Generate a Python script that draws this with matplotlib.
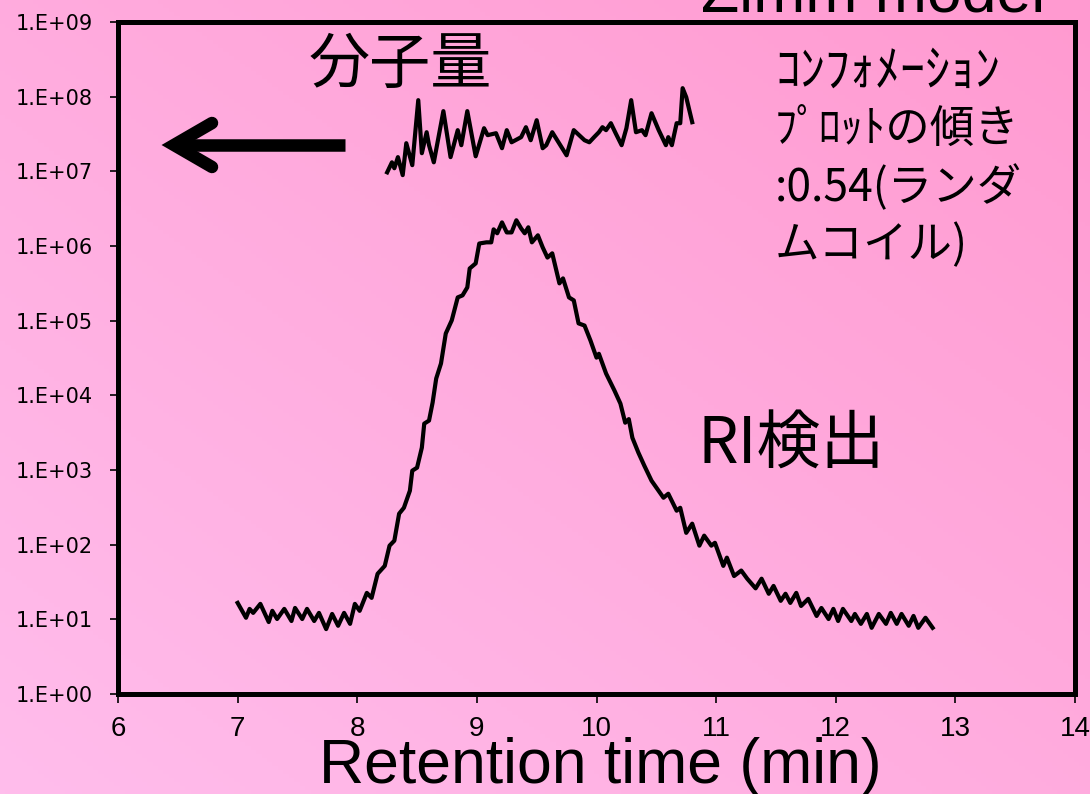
import numpy as np
import matplotlib
matplotlib.use("Agg")
import matplotlib.pyplot as plt
from matplotlib.lines import Line2D

# RI detector trace (retention time in min, detector signal)
ri_time = [7.00, 7.07, 7.10, 7.13, 7.19, 7.26, 7.29, 7.33, 7.39, 7.45,
           7.48, 7.54, 7.58, 7.64, 7.68, 7.74, 7.79, 7.84, 7.89, 7.94,
           7.98, 8.02, 8.08, 8.12, 8.17, 8.23, 8.27, 8.31, 8.35, 8.39,
           8.44, 8.46, 8.50, 8.54, 8.56, 8.60, 8.63, 8.66, 8.70, 8.74,
           8.79, 8.84, 8.88, 8.92, 8.94, 8.99, 9.02, 9.08, 9.12, 9.14,
           9.17, 9.21, 9.25, 9.29, 9.33, 9.37, 9.40, 9.43, 9.46, 9.51,
           9.55, 9.59, 9.63, 9.69, 9.72, 9.77, 9.81, 9.85, 9.90, 9.95,
           10.00, 10.02, 10.08, 10.15, 10.20, 10.24, 10.27, 10.30, 10.35, 10.40,
           10.46, 10.56, 10.60, 10.67, 10.70, 10.75, 10.80, 10.86, 10.90, 10.96,
           10.99, 11.06, 11.09, 11.15, 11.21, 11.26, 11.33, 11.38, 11.44, 11.48,
           11.54, 11.58, 11.62, 11.67, 11.71, 11.77, 11.84, 11.88, 11.94, 11.98,
           12.02, 12.06, 12.13, 12.16, 12.21, 12.26, 12.30, 12.36, 12.42, 12.46,
           12.51, 12.55, 12.61, 12.65, 12.69, 12.75, 12.81]
ri_signal = [16.6, 10.5, 13.8, 12.2, 16.1, 9.2, 13.0, 10.1, 13.8, 9.5,
             14.2, 10.1, 13.8, 9.5, 12.2, 7.4, 11.8, 8.2, 12.2, 8.7,
             16.1, 13.0, 22.6, 19.4, 40.7, 52, 97, 113, 260, 312,
             528, 979, 1075, 1993, 4180, 4590, 8000, 16800, 26700, 67300,
             1.01e5, 2.05e5, 2.18e5, 2.79e5, 5.0e5, 5.85e5, 1.08e6, 1.12e6, 1.12e6, 1.67e6,
             1.48e6, 2.07e6, 1.52e6, 1.52e6, 2.21e6, 1.72e6, 1.48e6, 1.78e6, 1.12e6, 1.39e6,
             9.6e5, 7.0e5, 7.97e5, 3.16e5, 3.68e5, 2.05e5, 1.87e5, 9.2e4, 8.6e4, 5.4e4,
             3.2e4, 3.6e4, 1.96e4, 1.16e4, 7750, 4300, 4800, 2700, 1710, 1140,
             719, 425, 481, 285, 312, 144, 191, 97, 132, 97,
             106, 52, 67, 38, 45, 35, 26, 35, 22, 28,
             17.7, 22, 16.6, 22.6, 15.1, 18.8, 11.1, 14.2, 10.1, 13.8,
             9.5, 13.8, 9.5, 11.8, 8.7, 11.8, 7.7, 11.8, 8.7, 12.2,
             8.7, 11.8, 8.2, 11.1, 7.7, 10.5, 7.7]

# molecular weight across the peak
mw_time = [8.25, 8.29, 8.31, 8.34, 8.38, 8.41, 8.46, 8.51, 8.54, 8.58,
           8.60, 8.64, 8.72, 8.78, 8.84, 8.87, 8.92, 8.99, 9.06, 9.09,
           9.16, 9.21, 9.25, 9.29, 9.37, 9.41, 9.45, 9.50, 9.55, 9.58,
           9.63, 9.75, 9.81, 9.90, 9.94, 9.98, 10.02, 10.05, 10.08, 10.12,
           10.16, 10.21, 10.25, 10.29, 10.33, 10.38, 10.41, 10.46, 10.52, 10.58,
           10.60, 10.63, 10.67, 10.70, 10.72, 10.75, 10.80]
mw_value = [9.7e6, 1.32e7, 1.10e7, 1.55e7, 8.9e6, 2.38e7, 1.21e7, 8.98e7, 1.75e7, 3.34e7,
            2.24e7, 1.32e7, 6.4e7, 1.55e7, 3.56e7, 2.24e7, 6.4e7, 1.59e7, 3.78e7, 3.05e7,
            3.24e7, 2.04e7, 3.56e7, 2.45e7, 2.87e7, 3.9e7, 2.61e7, 4.84e7, 2.04e7, 2.24e7,
            3.34e7, 1.64e7, 3.56e7, 2.61e7, 2.45e7, 2.87e7, 3.34e7, 3.9e7, 3.56e7, 4.41e7,
            3.24e7, 2.24e7, 3.78e7, 8.98e7, 3.34e7, 3.56e7, 3.05e7, 6.0e7, 3.56e7, 2.24e7,
            2.87e7, 2.24e7, 4.41e7, 4.41e7, 1.30e8, 9.85e7, 4.55e7]

x_ticks = [6, 7, 8, 9, 10, 11, 12, 13, 14]
y_ticks = [1e0, 1e1, 1e2, 1e3, 1e4, 1e5, 1e6, 1e7, 1e8, 1e9]
y_labels = ["1.E+00", "1.E+01", "1.E+02", "1.E+03", "1.E+04",
            "1.E+05", "1.E+06", "1.E+07", "1.E+08", "1.E+09"]

jp = ["Noto Sans CJK JP", "DejaVu Sans"]
W, H = 1090, 794

fig = plt.figure(figsize=(W / 100, H / 100), dpi=100)

# pink diagonal background
bg = fig.add_axes([0, 0, 1, 1], zorder=-10)
gx, gy = np.meshgrid(np.linspace(0, 1, 200), np.linspace(0, 1, 200))
t = (gx + gy) / 2
c_low = np.array([255, 189, 236]) / 255
c_high = np.array([255, 154, 208]) / 255
grad = c_low[None, None, :] * (1 - t[..., None]) + c_high[None, None, :] * t[..., None]
bg.imshow(grad, extent=[0, 1, 0, 1], origin="lower", aspect="auto")
bg.axis("off")

ax = fig.add_axes([118 / W, 1 - 694 / H, 957 / W, 672 / H])
ax.set_facecolor("none")

ax.plot(ri_time, ri_signal, color="black", lw=3, solid_joinstyle="round")
ax.plot(mw_time, mw_value, color="black", lw=3, solid_joinstyle="round")

ax.set_yscale("log")
ax.set_xlim(6, 14)
ax.set_ylim(1, 1e9)
ax.set_xticks(x_ticks)
ax.set_xticklabels([str(v) for v in x_ticks])
ax.set_yticks(y_ticks)
ax.set_yticklabels(y_labels)
ax.yaxis.set_minor_locator(matplotlib.ticker.NullLocator())
ax.tick_params(axis="y", length=6, width=1.2, pad=12, direction="out",
               labelsize=15, labelfontfamily="DejaVu Sans")
ax.tick_params(axis="x", length=6.5, width=1.2, pad=9, direction="out",
               labelsize=20, labelfontfamily="Liberation Sans")
for s in ax.spines.values():
    s.set_linewidth(3.6)

# axis title and cut-off heading
fig.text(600 / W, 1 - 783 / H, "Retention time (min)", ha="center", va="baseline",
         fontfamily="Liberation Sans", fontsize=45)
fig.text(1045 / W, 1 - 12 / H, "Zimm model", ha="right", va="baseline",
         fontfamily="Liberation Sans", fontsize=45)

# labels inside the plot
fig.text(400 / W, 1 - 66 / H, "分子量", ha="center", va="center", family=jp, fontsize=44)
fig.text(697 / W, 1 - 445 / H, "RI検出", ha="left", va="center", family=jp, fontsize=46)

note = ["ｺﾝﾌｫﾒｰｼｮﾝ", "ﾌﾟﾛｯﾄの傾き", ":0.54(ランダ", "ムコイル)"]
note_y = [72, 129, 188, 245]
note_size = [36, 32, 32, 32]
for line, yy, fs in zip(note, note_y, note_size):
    fig.text(775 / W, 1 - yy / H, line, ha="left", va="center", family=jp, fontsize=fs)

# arrow pointing to the left axis
shaft = Line2D([345 / W, 182 / W], [1 - 145 / H, 1 - 145 / H], transform=fig.transFigure,
               color="black", lw=9, solid_capstyle="butt")
head = Line2D([212 / W, 174 / W, 212 / W], [1 - 123 / H, 1 - 145 / H, 1 - 167 / H],
              transform=fig.transFigure, color="black", lw=9,
              solid_capstyle="round", solid_joinstyle="miter")
fig.add_artist(shaft)
fig.add_artist(head)

fig.savefig("out.png", dpi=100)
